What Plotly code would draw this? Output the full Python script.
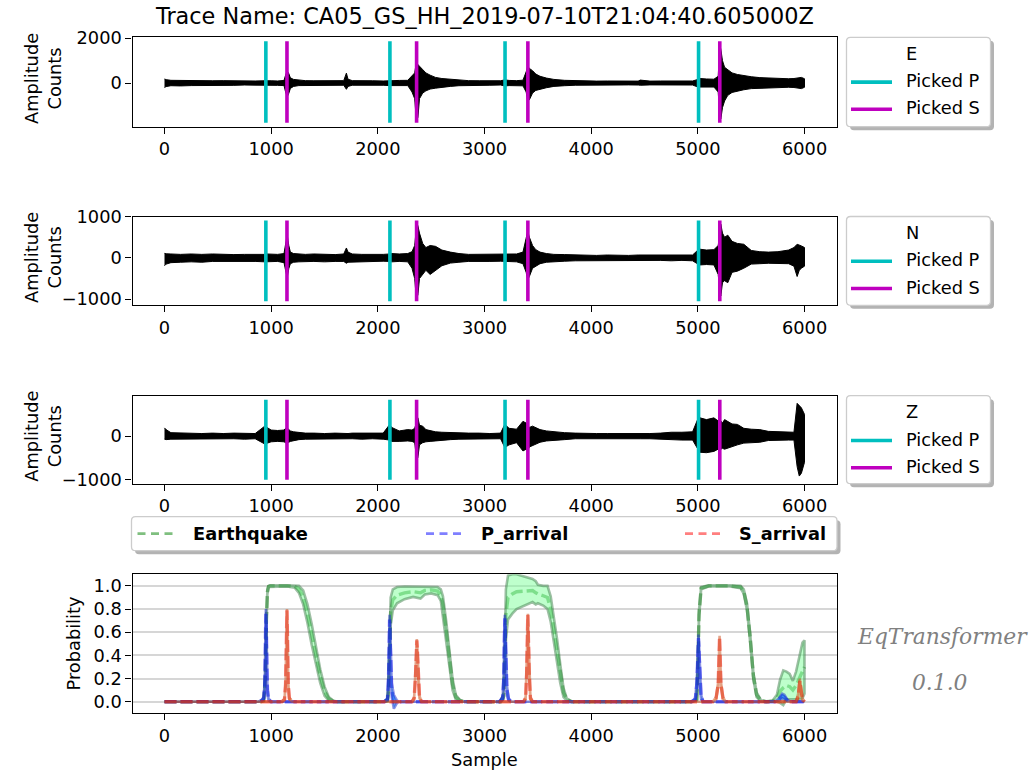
import plotly.graph_objects as go

W, H = 1032, 770
FONT = "DejaVu Sans"

# ---------------------------------------------------------------- data
TITLE = "Trace Name: CA05_GS_HH_2019-07-10T21:04:40.605000Z"
CHANNELS = ["E", "N", "Z"]

# picked arrivals (sample index)
P_PICKS = [950, 2113, 3192, 5006]
S_PICKS = [1148, 2363, 3406, 5205]

# waveform envelope: sample positions and upper / lower amplitude (counts)
T = [0, 15, 60, 150, 250, 350, 450, 550, 650, 750,
     850, 940, 960, 1000, 1060, 1120, 1135, 1150, 1165, 1180,
     1210, 1260, 1320, 1400, 1500, 1600, 1680, 1705, 1720, 1760,
     1850, 1950, 2050, 2110, 2130, 2200, 2280, 2320, 2345, 2360,
     2375, 2390, 2420, 2450, 2490, 2540, 2600, 2680, 2760, 2850,
     2950, 3050, 3150, 3190, 3230, 3300, 3360, 3390, 3405, 3420,
     3450, 3480, 3520, 3580, 3650, 3750, 3850, 3950, 4050, 4150,
     4250, 4350, 4440, 4460, 4550, 4650, 4750, 4850, 4950, 5000,
     5020, 5080, 5150, 5190, 5205, 5215, 5230, 5250, 5280, 5320,
     5370, 5430, 5500, 5580, 5660, 5750, 5850, 5900, 5930, 5950,
     5970, 5999]

E_UP = [180, 150, 120, 110, 120, 105, 100, 105, 90, 100,
        90, 100, 110, 100, 90, 115, 350, 540, 420, 230,
        160, 120, 105, 100, 105, 90, 105, 440, 170, 105,
        90, 100, 90, 105, 120, 115, 120, 300, 450, 900,
        800, 750, 600, 450, 350, 250, 200, 160, 125, 105,
        100, 90, 100, 140, 115, 105, 125, 500, 750, 650,
        550, 400, 300, 220, 160, 120, 100, 90, 85, 90,
        85, 90, 85, 130, 85, 90, 85, 90, 90, 160,
        200, 180, 170, 300, 1690, 1500, 1000, 700, 600, 450,
        380, 330, 280, 240, 220, 200, 190, 200, 210, 230,
        250, 190]
E_LO = [-200, -160, -120, -130, -115, -120, -105, -100, -105, -90,
        -100, -90, -120, -100, -105, -115, -400, -620, -460, -240,
        -150, -115, -100, -105, -90, -105, -100, -280, -150, -100,
        -100, -90, -100, -115, -125, -125, -115, -400, -700, -1600,
        -1550, -700, -450, -350, -270, -230, -180, -150, -120, -105,
        -100, -100, -90, -130, -115, -105, -125, -400, -800, -750,
        -450, -330, -270, -210, -150, -120, -100, -85, -90, -85,
        -85, -85, -90, -100, -85, -85, -90, -85, -90, -180,
        -210, -190, -180, -400, -1500, -1600, -1100, -800, -550, -420,
        -350, -300, -250, -220, -210, -200, -190, -200, -220, -230,
        -250, -190]

N_UP = [110, 100, 95, 85, 95, 85, 95, 85, 80, 85,
        80, 85, 95, 85, 85, 105, 350, 560, 300, 140,
        105, 95, 85, 95, 85, 80, 95, 240, 140, 95,
        85, 80, 85, 95, 105, 95, 105, 150, 300, 700,
        780, 600, 350, 250, 300, 280, 190, 140, 105, 85,
        85, 80, 85, 95, 95, 95, 140, 450, 650, 500,
        300, 200, 140, 105, 85, 80, 70, 70, 60, 70,
        60, 60, 70, 70, 60, 70, 60, 60, 70, 190,
        210, 190, 200, 300, 700, 815, 600, 500, 550, 400,
        350, 330, 180, 150, 140, 150, 190, 250, 330, 300,
        290, 250]
N_LO = [-190, -150, -115, -105, -95, -105, -85, -95, -95, -85,
        -85, -95, -105, -95, -85, -115, -300, -480, -260, -140,
        -105, -95, -85, -85, -95, -85, -85, -130, -105, -85,
        -95, -85, -80, -85, -95, -85, -95, -250, -500, -960,
        -900, -500, -400, -300, -400, -300, -190, -125, -105, -85,
        -85, -85, -80, -95, -85, -95, -140, -350, -530, -450,
        -250, -200, -140, -105, -85, -80, -70, -70, -70, -60,
        -60, -70, -60, -70, -60, -60, -70, -60, -70, -150,
        -170, -160, -170, -400, -800, -920, -600, -550, -600, -350,
        -320, -250, -150, -140, -130, -130, -140, -200, -450, -300,
        -250, -200]

Z_UP = [190, 150, 80, 70, 70, 60, 70, 60, 70, 60,
        60, 230, 200, 140, 130, 140, 180, 190, 150, 120,
        100, 80, 70, 70, 60, 70, 60, 70, 60, 70,
        70, 60, 70, 265, 200, 120, 150, 140, 180, 300,
        420, 250, 230, 150, 120, 100, 90, 80, 70, 70,
        70, 60, 70, 270, 180, 160, 340, 300, 250, 200,
        230, 200, 150, 120, 100, 80, 70, 60, 60, 60,
        60, 50, 60, 60, 60, 70, 90, 90, 100, 400,
        420, 380, 420, 350, 300, 350, 300, 380, 330, 280,
        270, 180, 160, 150, 110, 100, 90, 90, 754, 700,
        650, 500]
Z_LO = [-70, -80, -70, -60, -70, -70, -60, -60, -60, -70,
        -60, -180, -170, -130, -120, -130, -150, -150, -140, -120,
        -100, -80, -70, -60, -70, -60, -60, -60, -60, -60,
        -70, -60, -70, -90, -120, -120, -110, -120, -150, -450,
        -490, -200, -150, -130, -120, -100, -90, -80, -70, -60,
        -70, -60, -60, -260, -200, -150, -340, -300, -330, -250,
        -220, -180, -140, -110, -90, -80, -60, -60, -60, -50,
        -60, -60, -60, -60, -60, -60, -80, -90, -90, -300,
        -370, -380, -350, -300, -280, -300, -280, -300, -280, -240,
        -200, -160, -150, -140, -100, -90, -90, -90, -700, -917,
        -850, -600]

# model output: detection / P / S probability (mean and std at key samples)
EQ_T = [0, 900, 930, 945, 955, 965, 975, 990, 1150, 1220,
        1260, 1300, 1340, 1380, 1420, 1460, 1500, 1540, 1580, 1620,
        2050, 2090, 2100, 2110, 2120, 2140, 2180, 2250, 2330, 2400,
        2440, 2500, 2560, 2590, 2610, 2640, 2670, 2700, 2730, 2770,
        2820, 3150, 3180, 3190, 3200, 3220, 3260, 3300, 3350, 3400,
        3450, 3480, 3500, 3550, 3590, 3620, 3650, 3680, 3710, 3740,
        3770, 3820, 4950, 4990, 5000, 5010, 5030, 5100, 5300, 5400,
        5430, 5460, 5490, 5520, 5550, 5590, 5640, 5700, 5740, 5770,
        5800, 5830, 5860, 5890, 5920, 5950, 5980, 5999]
EQ_MEAN = [0, 0, 0.01, 0.2, 0.7, 0.95, 0.995, 1.0, 1.0, 0.995,
           0.97, 0.9, 0.76, 0.58, 0.4, 0.22, 0.09, 0.025, 0.005, 0,
           0, 0.01, 0.1, 0.5, 0.78, 0.88, 0.92, 0.94, 0.95, 0.94,
           0.96, 0.965, 0.955, 0.92, 0.84, 0.62, 0.38, 0.15, 0.04, 0.01,
           0, 0, 0.05, 0.45, 0.75, 0.9, 0.93, 0.95, 0.955, 0.955,
           0.96, 0.94, 0.93, 0.915, 0.9, 0.8, 0.62, 0.44, 0.24, 0.08,
           0.02, 0, 0, 0.02, 0.3, 0.75, 0.98, 1.0, 1.0, 0.99,
           0.95, 0.82, 0.55, 0.22, 0.06, 0.01, 0, 0.005, 0.03, 0.09,
           0.12, 0.14, 0.13, 0.1, 0.14, 0.2, 0.27, 0.3]
EQ_STD = [0, 0, 0.005, 0.05, 0.05, 0.02, 0.005, 0.005, 0.005, 0.01,
          0.03, 0.06, 0.08, 0.09, 0.08, 0.06, 0.04, 0.015, 0.005, 0,
          0, 0.005, 0.05, 0.12, 0.12, 0.09, 0.07, 0.055, 0.045, 0.05,
          0.035, 0.03, 0.035, 0.05, 0.07, 0.08, 0.07, 0.05, 0.02, 0.005,
          0, 0, 0.03, 0.2, 0.22, 0.19, 0.17, 0.15, 0.13, 0.115,
          0.1, 0.1, 0.08, 0.085, 0.1, 0.11, 0.12, 0.1, 0.08, 0.04,
          0.01, 0, 0, 0.01, 0.05, 0.04, 0.01, 0.005, 0.005, 0.01,
          0.02, 0.03, 0.04, 0.03, 0.02, 0.005, 0, 0.005, 0.03, 0.1,
          0.15, 0.12, 0.11, 0.08, 0.12, 0.18, 0.24, 0.23]

P_T = [0, 880, 910, 930, 940, 945, 950, 955, 960, 965,
       975, 1000, 2060, 2090, 2100, 2105, 2110, 2115, 2120, 2130,
       2150, 2180, 2200, 3140, 3170, 3180, 3185, 3190, 3195, 3200,
       3210, 3225, 3250, 4940, 4975, 4990, 5000, 5005, 5012, 5020,
       5030, 5050, 5720, 5760, 5790, 5810, 5840, 5870, 5999]
P_MEAN = [0, 0, 0.01, 0.03, 0.15, 0.45, 0.76, 0.6, 0.3, 0.1,
          0.02, 0, 0, 0.02, 0.2, 0.5, 0.71, 0.55, 0.3, 0.1,
          0.0, 0, 0, 0, 0.03, 0.2, 0.5, 0.72, 0.55, 0.3,
          0.1, 0.02, 0, 0, 0.02, 0.15, 0.45, 0.55, 0.4, 0.15,
          0.04, 0, 0, 0.02, 0.05, 0.04, 0.01, 0, 0]
P_STD = [0, 0, 0.005, 0.01, 0.05, 0.08, 0.04, 0.08, 0.06, 0.03,
         0.01, 0, 0, 0.01, 0.06, 0.1, 0.04, 0.1, 0.1, 0.06,
         0.06, 0.01, 0, 0, 0.015, 0.06, 0.1, 0.03, 0.1, 0.08,
         0.04, 0.01, 0, 0, 0.01, 0.05, 0.06, 0.03, 0.07, 0.05,
         0.02, 0, 0, 0.01, 0.02, 0.02, 0.005, 0, 0]

S_T = [0, 1100, 1125, 1135, 1142, 1148, 1154, 1160, 1170, 1195,
       2320, 2340, 2352, 2360, 2365, 2370, 2378, 2390, 2410, 3365,
       3385, 3395, 3402, 3406, 3410, 3418, 3430, 3450, 5140, 5170,
       5190, 5198, 5203, 5208, 5216, 5235, 5260, 5920, 5940, 5955,
       5965, 5980, 5999]
S_MEAN = [0, 0, 0.02, 0.15, 0.5, 0.79, 0.5, 0.15, 0.03, 0,
          0, 0.03, 0.2, 0.45, 0.53, 0.45, 0.2, 0.04, 0, 0,
          0.03, 0.25, 0.6, 0.75, 0.6, 0.25, 0.03, 0, 0, 0.03,
          0.15, 0.4, 0.56, 0.4, 0.15, 0.03, 0, 0, 0.05, 0.18,
          0.1, 0.02, 0]
S_STD = [0, 0, 0.005, 0.02, 0.03, 0.01, 0.03, 0.02, 0.01, 0,
         0, 0.01, 0.02, 0.02, 0.01, 0.02, 0.02, 0.01, 0, 0,
         0.01, 0.02, 0.02, 0.01, 0.02, 0.02, 0.01, 0, 0, 0.01,
         0.02, 0.02, 0.01, 0.02, 0.02, 0.01, 0, 0, 0.02, 0.02,
         0.02, 0.01, 0]

PROB_LABELS = ["Earthquake", "P_arrival", "S_arrival"]
VERSION = "0.1.0"

# ---------------------------------------------------------------- helpers
def fx(x):
    return x / W


def fy(y):
    return 1 - y / H


def padded(lo, hi, frac=0.05):
    m = (hi - lo) * frac
    return lo - m, hi + m


def rounded_box(x0, y0, x1, y1, r):
    pts = [("M", [(x0 + r, y0)]), ("L", [(x1 - r, y0)]), ("Q", [(x1, y0), (x1, y0 + r)]),
           ("L", [(x1, y1 - r)]), ("Q", [(x1, y1), (x1 - r, y1)]), ("L", [(x0 + r, y1)]),
           ("Q", [(x0, y1), (x0, y1 - r)]), ("L", [(x0, y0 + r)]), ("Q", [(x0, y0), (x0 + r, y0)])]
    s = ""
    for cmd, ps in pts:
        s += cmd + " " + " ".join(f"{fx(a):.5f},{fy(b):.5f}" for a, b in ps) + " "
    return s + "Z"


# plot area geometry (pixels)
X0, X1 = 132.5, 836.5
PANELS = [(37.3, 126.7), (216.5, 305.3), (395.7, 483.7), (574.3, 713.3)]

CYAN = "#00BFBF"
MAGENTA = "#BF00BF"
TXT = 17.8

fig = go.Figure()
shapes = []
annotations = []

x_range = padded(0, T[-1])

axis_style = dict(showline=True, linecolor="black", linewidth=1.3, mirror=True,
                  ticks="outside", ticklen=6, tickwidth=1.3, tickcolor="black",
                  showgrid=False, zeroline=False, automargin=False,
                  tickfont=dict(family=FONT, size=TXT, color="black"))

layout_axes = {}
waves = [(E_UP, E_LO), (N_UP, N_LO), (Z_UP, Z_LO)]
dticks = [2000, 1000, 1000]

for i, (up, lo) in enumerate(waves):
    n = i + 1
    xa = "x" if n == 1 else f"x{n}"
    ya = "y" if n == 1 else f"y{n}"
    top, bot = PANELS[i]

    # waveform as a filled envelope
    fig.add_trace(go.Scatter(x=T + T[::-1], y=up + lo[::-1], fill="toself",
                             fillcolor="black", mode="lines",
                             line=dict(color="black", width=1),
                             xaxis=xa, yaxis=ya, showlegend=False, hoverinfo="skip"))

    # pick markers span the data range padded by 5%, axis padded again
    vlo, vhi = padded(min(lo), max(up))
    ylo, yhi = padded(vlo, vhi)
    for picks, col in ((P_PICKS, CYAN), (S_PICKS, MAGENTA)):
        xs, ys = [], []
        for p in picks:
            xs += [p, p, None]
            ys += [vlo, vhi, None]
        fig.add_trace(go.Scatter(x=xs, y=ys, mode="lines", line=dict(color=col, width=3.6),
                                 xaxis=xa, yaxis=ya, showlegend=False, hoverinfo="skip"))

    layout_axes["xaxis" if n == 1 else f"xaxis{n}"] = dict(
        axis_style, domain=[fx(X0), fx(X1)], range=list(x_range), anchor=ya,
        tick0=0, dtick=1000)
    layout_axes["yaxis" if n == 1 else f"yaxis{n}"] = dict(
        axis_style, domain=[fy(bot), fy(top)], range=[ylo, yhi], anchor=xa,
        tick0=0, dtick=dticks[i])

    # y label
    annotations.append(dict(x=fx(43), y=fy((top + bot) / 2 - 3), xref="paper", yref="paper",
                            text="Amplitude<br>Counts", textangle=-90, showarrow=False,
                            xanchor="center", yanchor="middle",
                            font=dict(family=FONT, size=TXT, color="black")))

    # channel legend box
    bx0, bx1 = 846.5, 990.5
    shapes.append(dict(type="path", xref="paper", yref="paper",
                       path=rounded_box(bx0 + 3.5, top + 3.5, bx1 + 3.5, bot + 3.5, 4),
                       fillcolor="#b3b3b3", line=dict(width=0)))
    shapes.append(dict(type="path", xref="paper", yref="paper",
                       path=rounded_box(bx0, top, bx1, bot, 4),
                       fillcolor="white", line=dict(color="#cccccc", width=1.3)))
    rows = [top + 16, top + 43.3, top + 70.5]
    for label, yy in zip([CHANNELS[i], "Picked P", "Picked S"], rows):
        annotations.append(dict(x=fx(904), y=fy(yy), xref="paper", yref="paper", text=label,
                                showarrow=False, xanchor="left", yanchor="middle",
                                font=dict(family=FONT, size=TXT, color="black")))
    for col, yy in ((CYAN, rows[1] + 1.5), (MAGENTA, rows[2] + 1.5)):
        shapes.append(dict(type="line", xref="paper", yref="paper",
                           x0=fx(851), x1=fx(892), y0=fy(yy), y1=fy(yy),
                           line=dict(color=col, width=3.6)))

# ---------------------------------------------------------------- probabilities
prob_series = [
    (EQ_T, EQ_MEAN, EQ_STD, "rgba(0,128,0,0.5)", "rgba(126,255,153,0.5)", "rgba(63,127,76,0.5)"),
    (P_T, P_MEAN, P_STD, "rgba(0,0,255,0.5)", "rgba(8,159,255,0.5)", "rgba(27,42,204,0.5)"),
    (S_T, S_MEAN, S_STD, "rgba(255,0,0,0.5)", "rgba(255,152,72,0.5)", "rgba(204,79,27,0.5)"),
]
DASH = "12px,4px"
for t, mean, std, lcol, fcol, ecol in prob_series:
    upper = [m + s for m, s in zip(mean, std)]
    lower = [m - s for m, s in zip(mean, std)]
    fig.add_trace(go.Scatter(x=t, y=mean, mode="lines",
                             line=dict(color=lcol, width=3.4, dash=DASH),
                             xaxis="x4", yaxis="y4", showlegend=False, hoverinfo="skip"))
    fig.add_trace(go.Scatter(x=t + t[::-1], y=upper + lower[::-1], fill="toself",
                             fillcolor=fcol, mode="lines", line=dict(color=ecol, width=2.6),
                             xaxis="x4", yaxis="y4", showlegend=False, hoverinfo="skip"))

top, bot = PANELS[3]
layout_axes["xaxis4"] = dict(axis_style, domain=[fx(X0), fx(X1)], range=list(x_range),
                             anchor="y4", tick0=0, dtick=1000)
layout_axes["yaxis4"] = dict(axis_style, domain=[fy(bot), fy(top)], range=[-0.1, 1.1],
                             anchor="x4", tick0=0, dtick=0.2, tickformat=".1f",
                             showgrid=True, gridcolor="#d6d6d6", gridwidth=1.5)

annotations.append(dict(x=fx(72.5), y=fy(644), xref="paper", yref="paper", text="Probability",
                        textangle=-90, showarrow=False, xanchor="center", yanchor="middle",
                        font=dict(family=FONT, size=TXT, color="black")))
annotations.append(dict(x=fx(484.5), y=fy(759), xref="paper", yref="paper", text="Sample",
                        showarrow=False, xanchor="center", yanchor="middle",
                        font=dict(family=FONT, size=TXT, color="black")))

# probability legend above the panel
lx0, lx1, ly0, ly1 = 131.5, 837.0, 516.7, 550.7
shapes.append(dict(type="path", xref="paper", yref="paper",
                   path=rounded_box(lx0 + 3.5, ly0 + 3.5, lx1 + 3.5, ly1 + 3.5, 4),
                   fillcolor="#b3b3b3", line=dict(width=0)))
shapes.append(dict(type="path", xref="paper", yref="paper",
                   path=rounded_box(lx0, ly0, lx1, ly1, 4),
                   fillcolor="white", line=dict(color="#cccccc", width=1.3)))
leg_y = 533.7
for (hx0, hx1, tx), label, (_, _, _, lcol, _, _) in zip(
        [(137.5, 176, 191), (426, 464, 479), (685, 723, 737)], PROB_LABELS, prob_series):
    shapes.append(dict(type="line", xref="paper", yref="paper", x0=fx(hx0), x1=fx(hx1),
                       y0=fy(leg_y), y1=fy(leg_y),
                       line=dict(color=lcol, width=2.8, dash="8px,5.5px")))
    annotations.append(dict(x=fx(tx), y=fy(leg_y), xref="paper", yref="paper",
                            text=f"<b>{label}</b>", showarrow=False, xanchor="left",
                            yanchor="middle", font=dict(family=FONT, size=TXT, color="black")))

# title and model tag
annotations.append(dict(x=fx(484.5), y=fy(16), xref="paper", yref="paper", text=TITLE,
                        showarrow=False, xanchor="center", yanchor="middle",
                        font=dict(family=FONT, size=22.4, color="black")))
annotations.append(dict(x=fx(942), y=fy(636), xref="paper", yref="paper", text="EqTransformer",
                        showarrow=False, xanchor="center", yanchor="middle",
                        font=dict(family="DejaVu Serif", size=21.8, color="#808080",
                                  style="italic")))
annotations.append(dict(x=fx(940), y=fy(682), xref="paper", yref="paper", text=VERSION,
                        showarrow=False, xanchor="center", yanchor="middle",
                        font=dict(family="DejaVu Serif", size=21.8, color="#808080",
                                  style="italic")))

fig.update_layout(width=W, height=H, autosize=False,
                  margin=dict(l=0, r=0, t=0, b=0, pad=0, autoexpand=False),
                  paper_bgcolor="white", plot_bgcolor="white",
                  showlegend=False, shapes=shapes, annotations=annotations,
                  **layout_axes)

fig.write_html("out.html")
